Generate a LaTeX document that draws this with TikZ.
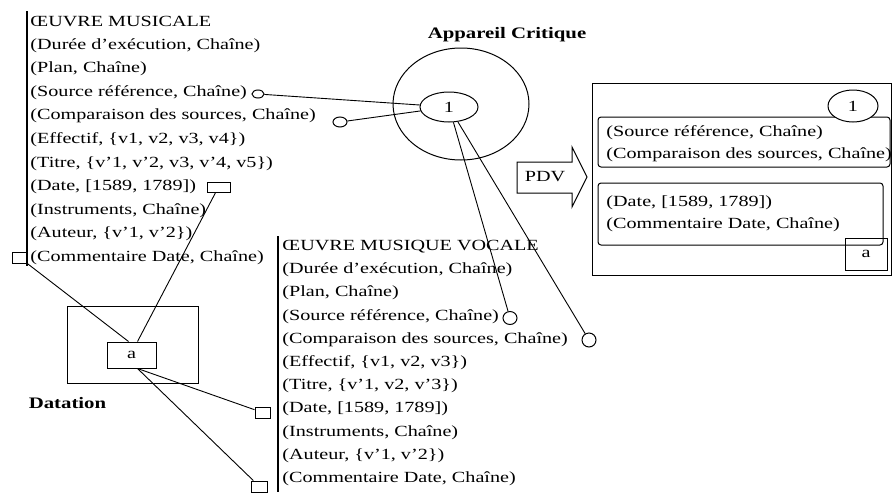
\documentclass[tikz,border=0pt]{standalone}
\usepackage{fontspec}
\setmainfont{Liberation Serif}[FakeStretch=1.3]
\usetikzlibrary{shapes.geometric}
\tikzset{
	ligne/.style={anchor=west, inner sep=0pt, font=\fontsize{15.5}{18}\selectfont},
	titre/.style={inner sep=0pt, font=\fontsize{16}{18}\selectfont\bfseries},
	port/.style={draw, rectangle, inner sep=0pt, line width=1pt},
	rond/.style={draw, ellipse, inner sep=0pt, line width=1pt},
	boite/.style={draw, rectangle, rounded corners=3pt, inner sep=0pt, line width=1pt}
}
\begin{document}
\begin{tikzpicture}[x=1pt,y=-1pt,line width=.9pt]
				\useasboundingbox (0,0) rectangle (893,493);
				\def\pas{23.6pt}
				\def\pasb{23.2pt}
				\coordinate (mus) at (30,21.7);
				\coordinate (voc) at (282,246.7);
				\draw[line width=1.6pt] (27,11) -- (27,266);
				\draw[line width=2pt] (278,236) -- (278,492);
				
				\node[ligne] (mus0) at (mus) {ŒUVRE MUSICALE};
				\node[ligne, yshift=-\pas] (mus1) at (mus) {(Durée d'exécution, Chaîne)};
				\node[ligne, yshift=-2*\pas] (mus2) at (mus) {(Plan, Chaîne)};
				\node[ligne, yshift=-3*\pas] (mus3) at (mus) {(Source référence, Chaîne)};
				\node[ligne, yshift=-4*\pas] (mus4) at (mus) {(Comparaison des sources, Chaîne)};
				\node[ligne, yshift=-5*\pas] (mus5) at (mus) {(Effectif, \{v1, v2, v3, v4\})};
				\node[ligne, yshift=-6*\pas] (mus6) at (mus) {(Titre, \{v'1, v'2, v3, v'4, v5\})};
				\node[ligne, yshift=-7*\pas] (mus7) at (mus) {(Date, [1589, 1789])};
				\node[ligne, yshift=-8*\pas] (mus8) at (mus) {(Instruments, Chaîne)};
				\node[ligne, yshift=-9*\pas] (mus9) at (mus) {(Auteur, \{v'1, v'2\})};
				\node[ligne, yshift=-10*\pas] (mus10) at (mus) {(Commentaire Date, Chaîne)};
				
				\node[ligne] (voc0) at (voc) {ŒUVRE MUSIQUE VOCALE};
				\node[ligne, yshift=-\pasb] (voc1) at (voc) {(Durée d'exécution, Chaîne)};
				\node[ligne, yshift=-2*\pasb] (voc2) at (voc) {(Plan, Chaîne)};
				\node[ligne, yshift=-3*\pasb] (voc3) at (voc) {(Source référence, Chaîne)};
				\node[ligne, yshift=-4*\pasb] (voc4) at (voc) {(Comparaison des sources, Chaîne)};
				\node[ligne, yshift=-5*\pasb] (voc5) at (voc) {(Effectif, \{v1, v2, v3\})};
				\node[ligne, yshift=-6*\pasb] (voc6) at (voc) {(Titre, \{v'1, v2, v'3\})};
				\node[ligne, yshift=-7*\pasb] (voc7) at (voc) {(Date, [1589, 1789])};
				\node[ligne, yshift=-8*\pasb] (voc8) at (voc) {(Instruments, Chaîne)};
				\node[ligne, yshift=-9*\pasb] (voc9) at (voc) {(Auteur, \{v'1, v'2\})};
				\node[ligne, yshift=-10*\pasb] (voc10) at (voc) {(Commentaire Date, Chaîne)};
				
				\node[rond, minimum width=12, minimum height=8] (srcA) at (258,94) {};
				\node[rond, minimum width=14, minimum height=10] (cmpA) at (340,122) {};
				\node[port, minimum width=23, minimum height=10] (datA) at (218.5,187) {};
				\node[port, minimum width=15, minimum height=11] (comA) at (19.5,257.5) {};
				\node[rond, minimum width=14, minimum height=13] (srcB) at (510,318) {};
				\node[rond, minimum width=14, minimum height=14] (cmpB) at (589,340) {};
				\node[port, minimum width=15, minimum height=11] (datB) at (262.5,412.5) {};
				\node[port, minimum width=16, minimum height=11] (comB) at (259.5,486.5) {};
				
				\node[titre] (appc) at (507,35) {Appareil Critique};
				\node[rond, minimum width=136, minimum height=112] (appareil) at (461,104) {};
				\node[rond, ligne, anchor=center, minimum width=58, minimum height=30] (un) at (449,107) {1};
				
				\node[titre] (datt) at (67.5,403) {Datation};
				\node[port, minimum width=131, minimum height=77] (datation) at (132.5,344.5) {};
				\node[port, ligne, anchor=center, minimum width=49, minimum height=26] (a) at (131.5,355) {a};
				
				\draw (srcA) -- (un);
				\draw (cmpA) -- (un);
				\draw (un) -- (srcB);
				\draw (un) -- (cmpB);
				\draw (comA) -- ([xshift=-3pt]a.north);
				\draw (datA) -- ([xshift=6pt]a.north);
				\draw ([xshift=6pt]a.south) -- (datB);
				\draw ([xshift=6pt]a.south) -- (comB);
				
				\draw[line width=1pt] (517,162) -- (572,162) -- (572,147) -- (587,177) -- (572,207) -- (572,193) -- (517,193) -- cycle;
				\node[ligne, anchor=center] (pdv) at (545,177) {PDV};
				
				\node[port, minimum width=299, minimum height=192] (vue) at (741.5,179) {};
				\node[boite, minimum width=292, minimum height=50] (grp1) at (744,142) {};
				\node[ligne] (grp1a) at (606,133) {(Source référence, Chaîne)};
				\node[ligne] (grp1b) at (606,155) {(Comparaison des sources, Chaîne)};
				\node[rond, ligne, anchor=center, fill=white, minimum width=50, minimum height=32] (unb) at (853,106) {1};
				\node[boite, minimum width=285, minimum height=62] (grp2) at (740.5,214) {};
				\node[ligne] (grp2a) at (606,203) {(Date, [1589, 1789])};
				\node[ligne] (grp2b) at (606,225) {(Commentaire Date, Chaîne)};
				\node[port, ligne, anchor=center, minimum width=42, minimum height=32] (ab) at (866,254) {a};
			\end{tikzpicture}
\end{document}
